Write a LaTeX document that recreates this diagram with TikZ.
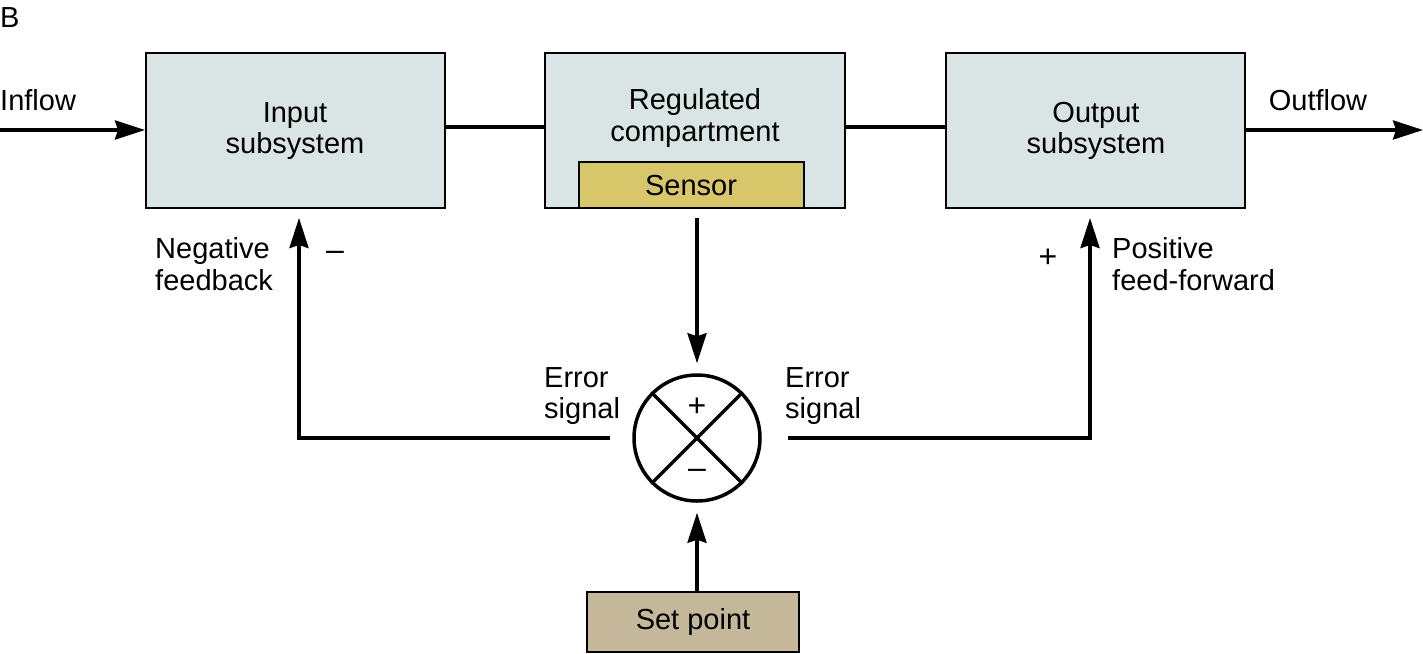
\documentclass[tikz,border=0pt]{standalone}
\usepackage{fontspec}
\setmainfont{Liberation Sans}
\usetikzlibrary{arrows.meta}
\definecolor{boxfill}{HTML}{D9E4E4}
\definecolor{sensorfill}{HTML}{D8C66A}
\definecolor{setfill}{HTML}{C5B89A}
\tikzset{
  txt/.style={font=\fontsize{29}{31.5}\selectfont, align=center, inner sep=0pt},
  sign/.style={font=\fontsize{32}{32}\selectfont, inner sep=0pt},
  sysbox/.style={draw=black, line width=2pt, fill=boxfill, minimum width=299pt, minimum height=155pt, inner sep=0pt},
  smallbox/.style={draw=black, line width=2pt, inner sep=0pt},
  flow/.style={line width=3.5pt, -{Stealth[length=30pt,width=19pt,inset=3pt]}},
  link/.style={line width=3.5pt},
}
\begin{document}
\begin{tikzpicture}[x=1pt,y=-1pt]
\useasboundingbox (0,0) rectangle (1423,653);
% boxes
\node[sysbox] (input) at (295.5,130.5) {};
\node[sysbox, minimum width=300pt] (reg) at (695,130.5) {};
\node[sysbox] (output) at (1095.5,130.5) {};
\node[smallbox, fill=sensorfill, minimum width=225pt, minimum height=46pt] (sensor) at (691.5,185) {};
\node[smallbox, fill=setfill, minimum width=212pt, minimum height=60pt] (setpt) at (693,622) {};
% texts in boxes
\node[txt] (tinput) at (295,131) {Input\\subsystem};
\node[txt] (treg) at (695,118) {Regulated\\compartment};
\node[txt] (toutput) at (1096,131) {Output\\subsystem};
\node[txt] (tsensor) at (691,186) {Sensor};
\node[txt] (tset) at (693,622) {Set point};
% comparator
\node[draw=black, line width=3.5pt, circle, minimum size=126pt, inner sep=0pt] (cmp) at (697,438) {};
\draw[line width=3.5pt] (cmp.45) -- (cmp.225);
\draw[line width=3.5pt] (cmp.135) -- (cmp.315);
\node[sign] (cplus) at (697,407) {+};
\node[sign] (cminus) at (697,474) {–};
% connectors between boxes
\draw[link] (input.east |- 0,127) coordinate (a1) -- (reg.west |- a1);
\draw[link] (reg.east |- 0,127) coordinate (a2) -- (output.west |- a2);
% inflow / outflow
\coordinate (inl) at (0,130);
\coordinate (outr) at (1423,130);
\draw[flow] (inl) -- (input.west |- inl);
\draw[flow] (output.east |- outr) -- (outr);
\node[txt, anchor=west] (tin) at (0,100) {Inflow};
\node[txt] (tout) at (1318,100) {Outflow};
% sensor to comparator
\coordinate (sx) at (697,208);
\draw[flow, shorten <=10pt, shorten >=10pt] (sx) -- (cmp.north);
% set point to comparator
\draw[flow, shorten >=10pt] (setpt.north -| cmp) -- (cmp.south);
% feedback paths
\coordinate (fbL) at (299,208);
\coordinate (fbR) at (1090,208);
\draw[flow, shorten <=22pt, shorten >=10pt] (cmp.west) -| (fbL);
\draw[flow, shorten <=26pt, shorten >=10pt] (cmp.east) -| (fbR);
% labels
\node[txt, align=left, anchor=west] (errL) at (544,396) {Error\\signal};
\node[txt, align=left, anchor=west] (errR) at (785,396) {Error\\signal};
\node[txt, align=left, anchor=west] (neg) at (155,264) {Negative\\feedback};
\node[sign] (negsign) at (335,256) {–};
\node[sign] (possign) at (1048,258) {+};
\node[txt, align=left, anchor=west] (pos) at (1112,264) {Positive\\feed-forward};
\node[txt, anchor=west] (lbl) at (0,18) {B};
\end{tikzpicture}
\end{document}
